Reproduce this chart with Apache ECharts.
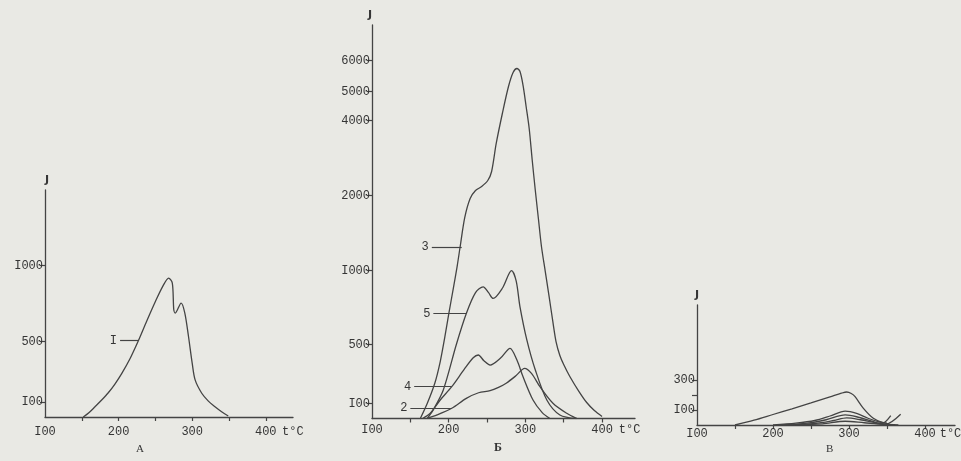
<!DOCTYPE html>
<html><head><meta charset="utf-8">
<script src="https://cdn.jsdelivr.net/npm/echarts@6/dist/echarts.min.js"></script>
<style>html,body{margin:0;padding:0;background:#e9e9e4}#c{width:961px;height:461px}</style>
</head><body><div id="c"></div>
<script>
// ---------- DATA ----------
// Panel А (curve I)
const tempA_I = [152,160,168,177,186,195,204,216,227,238,250,260,268,273,275,277,285,290,295,300,304,313,322,331,340,349];
const valA_I  = [0,30,68,112,160,218,285,390,505,631,763,863,918,885,709,687,753,687,532,356,245,157,105,68,35,7];

// Panel Б (curves 2,3,4,5)
const tempB_3 = [163,172,182,189,195,200,206,211,215,221,228,235,243,251,256,262,270,278,284,289,293,297,301,305,309,313,317,321,326,331,336,340,345,350,358,370,380,390,400];
const valB_3  = [0,101,240,385,551,703,878,1053,1320,1707,1960,2133,2240,2400,2640,3387,4241,5161,5613,5742,5645,5194,4483,3787,2933,2133,1693,1320,993,824,649,520,426,365,284,182,108,54,14];
const tempB_5 = [172,180,193,210,223,235,245,252,258,270,282,288,293,302,313,328,345,367];
const valB_5  = [0,60,193,500,709,850,890,850,811,880,999,930,755,530,328,125,24,0];
const tempB_4 = [166,176,189,204,220,232,238.6,246,254,268,280,289,297,310,322,332];
const valB_4  = [0,35,125,215,330,410,429,390,361,410,474,395,282,125,40,0];
const tempB_2 = [171,185,204,223,239,254,265,275,288,299,308,319,336,354,367];
const valB_2  = [0,25,69,136,174,188,210,238,290,339,305,215,103,35,0];

// Panel В (several curves)
const tempV_1 = [150,175,200,225,250,275,290,297,303,308,319,332,345,360];
const valV_1  = [0,32,70,108,147,187,212,220,210,189,111,45,15,0];
const tempV_2 = [200,230,255,275,295,310,325,340,350];
const valV_2  = [0,12,30,60,93,78,45,20,12];
const tempV_3 = [210,245,270,295,310,330,343,355];
const valV_3  = [0,12,35,67,55,25,8,62];
const tempV_4 = [220,255,280,297,315,335,348,368];
const valV_4  = [0,10,30,47,35,15,5,72];
const tempV_5 = [230,265,295,320,345,365];
const valV_5  = [0,8,25,15,5,0];

// Tick labels
const xTickVals = [150,200,250,300,350,400];
const xLabelVals = [100,200,300,400];
const xLabels = ['I00','200','300','400'];
const yA_ticks = [100,500,1000];
const yA_labels = ['I00','500','I000'];
const yB_ticks = [100,500,1000,2000,4000,5000,6000];
const yB_labels = ['I00','500','I000','2000','4000','5000','6000'];
const yV_ticks = [100,200,300];
const yV_labelVals = [100,300];
const yV_labels = ['I00','300'];
const panelNames = ['А','Б','В'];

// Non-linear J scale of panel Б (piecewise linear between these values)
const scaleB_J = [0,1000,2000,4000,5000,6000];
const scaleB_U = [0,148,223,298,327,358];
function toU(J){
  for(let i=1;i<scaleB_J.length;i++){
    if(J<=scaleB_J[i]){
      const a=scaleB_J[i-1],b=scaleB_J[i];
      return scaleB_U[i-1]+(J-a)/(b-a)*(scaleB_U[i]-scaleB_U[i-1]);
    }
  }
  return scaleB_U[scaleB_U.length-1];
}

// ---------- STYLE ----------
const INK = '#444444';
const TXT = '#353535';
const FONT = '"Liberation Mono","DejaVu Sans Mono",monospace';

function pairs(t,v,f){return t.map((x,i)=>[x, f?f(v[i]):v[i]]);}
function labelOf(vals,labs,v){
  let best=0,d=1e9;vals.forEach((x,i)=>{const dd=Math.abs(x-v);if(dd<d){d=dd;best=i;}});
  return labs[best];
}

function xAxisCfg(gi,max,nameGap,margin){
  return {
    type:'value', gridIndex:gi, min:100, max:max,
    axisLine:{show:true,lineStyle:{color:INK,width:1.3}},
    axisTick:{show:true,length:4,lineStyle:{color:INK,width:1.2},customValues:xTickVals},
    axisLabel:{show:true,color:TXT,fontFamily:FONT,fontSize:12,margin:margin,customValues:xLabelVals,
      formatter:v=>labelOf(xLabelVals,xLabels,v)},
    splitLine:{show:false},
    name:'t°C', nameLocation:'end', nameGap:nameGap,
    nameTextStyle:{color:TXT,fontFamily:FONT,fontSize:12,verticalAlign:'top',padding:[margin,0,0,0]}
  };
}
function yAxisCfg(gi,max,tickVals,labelVals,labelFn,nameAlign){
  return {
    type:'value', gridIndex:gi, min:0, max:max,
    axisLine:{show:true,lineStyle:{color:INK,width:1.3}},
    axisTick:{show:true,length:5,lineStyle:{color:INK,width:1.2},customValues:tickVals},
    axisLabel:{show:true,color:TXT,fontFamily:FONT,fontSize:12,margin:2,customValues:labelVals,formatter:labelFn},
    splitLine:{show:false},
    name:'J', nameLocation:'end', nameGap:4,
    nameTextStyle:{color:TXT,fontFamily:'"DejaVu Sans",sans-serif',fontSize:11,fontWeight:'bold',align:nameAlign}
  };
}
function lineSeries(xi,data,markLbl,from,to,yv){
  const s = {type:'line', xAxisIndex:xi, yAxisIndex:xi, data:data, showSymbol:false, smooth:0.3,
    lineStyle:{color:INK,width:1.3}, silent:true};
  if(markLbl){
    s.markLine = {silent:true, symbol:['none','none'], animation:false,
      lineStyle:{color:INK,width:1.2,type:'solid'},
      label:{show:true,position:'start',formatter:markLbl,color:TXT,fontFamily:FONT,fontSize:12,distance:3},
      data:[[{coord:[from,yv]},{coord:[to,yv]}]]};
  }
  return s;
}

const yBtickU = yB_ticks.map(toU);
const letterStyle = {color:TXT,fontFamily:'"Liberation Serif",serif',fontSize:11,fontWeight:'normal'};

const option = {
  backgroundColor:'#e9e9e4',
  animation:false,
  grid:[
    {left:45, top:190, width:248, height:227, outerBoundsMode:'none'},
    {left:372, top:25, width:263, height:393.5, outerBoundsMode:'none'},
    {left:697, top:305, width:258, height:120, outerBoundsMode:'none'}
  ],
  title:[
    {text:panelNames[0], left:131, top:439, textStyle:letterStyle},
    {text:panelNames[1], left:489, top:437, textStyle:Object.assign({},letterStyle,{fontSize:12,fontWeight:'bold'})},
    {text:panelNames[2], left:821, top:439, textStyle:letterStyle}
  ],
  xAxis:[ xAxisCfg(0,437,-11,9), xAxisCfg(1,443,-24,5), xAxisCfg(2,439.5,-21,3) ],
  yAxis:[
    yAxisCfg(0,1500,yA_ticks,yA_ticks,v=>labelOf(yA_ticks,yA_labels,v),'left'),
    yAxisCfg(1,393.5,yBtickU,yBtickU,v=>labelOf(yBtickU,yB_labels,v),'right'),
    yAxisCfg(2,800,yV_ticks,yV_labelVals,v=>labelOf(yV_labelVals,yV_labels,v),'center')
  ],
  series:[
    lineSeries(0,pairs(tempA_I,valA_I),'I',202,227,505),
    lineSeries(1,pairs(tempB_3,valB_3,toU),'3',178,217,toU(1311)),
    lineSeries(1,pairs(tempB_5,valB_5,toU),'5',180,223,toU(709)),
    lineSeries(1,pairs(tempB_4,valB_4,toU),'4',155,204,toU(215)),
    lineSeries(1,pairs(tempB_2,valB_2,toU),'2',150,204,toU(69)),
    lineSeries(2,pairs(tempV_1,valV_1)),
    lineSeries(2,pairs(tempV_2,valV_2)),
    lineSeries(2,pairs(tempV_3,valV_3)),
    lineSeries(2,pairs(tempV_4,valV_4)),
    lineSeries(2,pairs(tempV_5,valV_5))
  ]
};
const chart = echarts.init(document.getElementById('c'),null,{renderer:'canvas'});
chart.setOption(option);
</script></body></html>
